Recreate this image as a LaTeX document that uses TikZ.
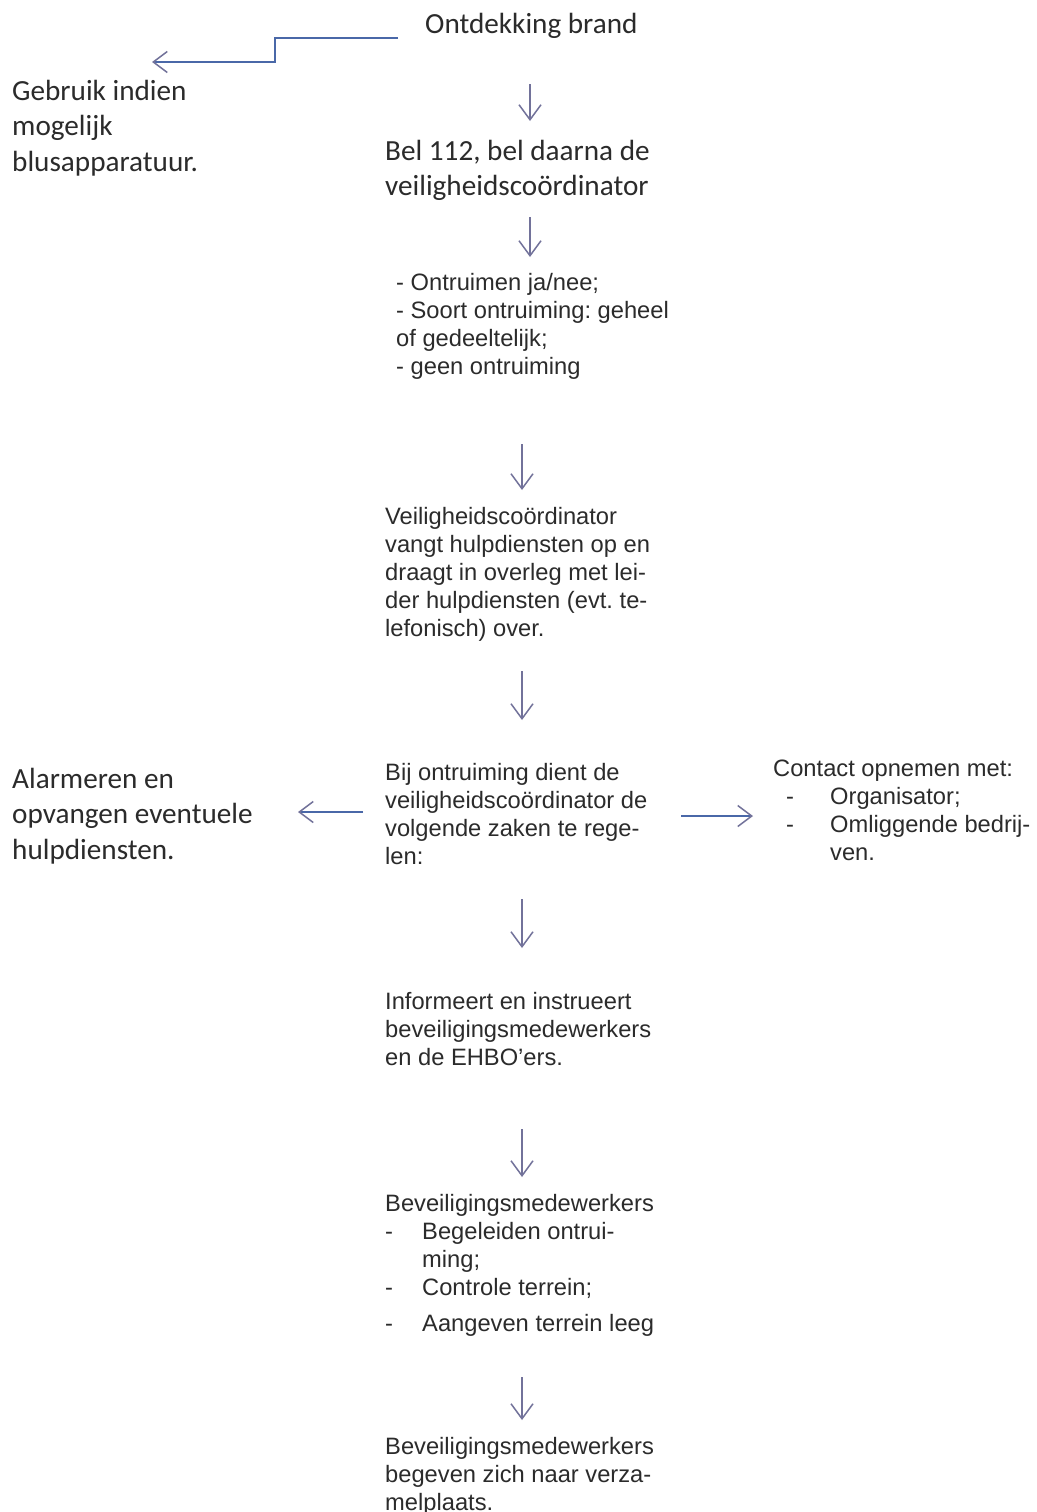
\documentclass[tikz,border=0pt]{standalone}
\usepackage{fontspec}
\setmainfont{Liberation Sans}
\newfontfamily\calib{Carlito}
\usetikzlibrary{arrows.meta}
\definecolor{arrowgray}{HTML}{72729A}
\definecolor{lineblue}{HTML}{4A68A8}
\definecolor{txt}{HTML}{2B2B2B}
\frenchspacing
\begin{document}
\begin{tikzpicture}[x=1pt,y=-1pt,
  cal/.style={anchor=base west,inner sep=0pt,align=left,text=txt,font=\calib\fontsize{29.2}{35.5}\selectfont},
  ari/.style={anchor=base west,inner sep=0pt,align=left,text=txt,font=\fontsize{23.7}{28}\selectfont},
  downarr/.style={draw=arrowgray,line width=1.4pt,-{Straight Barb[length=15pt,width=22pt,line width=1.5pt]}},
  sidearr/.style={draw=lineblue,line width=1.5pt,-{Straight Barb[length=14pt,width=21pt,line width=1.5pt,color=arrowgray]}}]
\useasboundingbox (0,0) rectangle (1036,1512);
\fill[white] (0,0) rectangle (1036,1512);
% texts (anchor = baseline of the last line)
\node[cal] (ontd) at (425,34) {Ontdekking brand};
\node[cal] (gebr) at (12,171) {Gebruik indien\\mogelijk\\blusapparatuur.};
\node[cal] (bel) at (385,195.5) {Bel 112, bel daarna de\\veiligheidscoördinator};
\node[ari] (ontr) at (396,374) {- Ontruimen ja/nee;\\- Soort ontruiming: geheel\\of gedeeltelijk;\\- geen ontruiming};
\node[ari] (vang) at (385,636) {Veiligheidscoördinator\\vangt hulpdiensten op en\\draagt in overleg met lei-\\der hulpdiensten (evt. te-\\lefonisch) over.};
\node[ari] (bij) at (385,864) {Bij ontruiming dient de\\veiligheidscoördinator de\\volgende zaken te rege-\\len:};
\node[cal] (alarm) at (12,859) {Alarmeren en\\opvangen eventuele\\hulpdiensten.};
\node[ari] (contact) at (773,860) {Contact opnemen met:\\\hspace*{13pt}\makebox[44pt][l]{-}Organisator;\\\hspace*{13pt}\makebox[44pt][l]{-}Omliggende bedrij-\\\hspace*{57pt}ven.};
\node[ari] (info) at (385,1065) {Informeert en instrueert\\beveiligingsmedewerkers\\en de EHBO'ers.};
\node[ari] (bev) at (385,1331) {Beveiligingsmedewerkers\\\makebox[37pt][l]{-}Begeleiden ontrui-\\\hspace*{37pt}ming;\\\makebox[37pt][l]{-}Controle terrein;\\[8pt]\makebox[37pt][l]{-}Aangeven terrein leeg};
\node[ari] (verz) at (385,1510) {Beveiligingsmedewerkers\\begeven zich naar verza-\\melplaats.};
% arrow end points
\coordinate (a0s) at (398,38);
\coordinate (a0e) at (152,62);
\coordinate (a1s) at (530,84);  \coordinate (a1e) at (530,121);
\coordinate (a2s) at (530,217); \coordinate (a2e) at (530,257);
\coordinate (a3s) at (522,444); \coordinate (a3e) at (522,490);
\coordinate (a4s) at (522,671); \coordinate (a4e) at (522,720);
\coordinate (a5s) at (522,899); \coordinate (a5e) at (522,948);
\coordinate (a6s) at (522,1129);\coordinate (a6e) at (522,1177);
\coordinate (a7s) at (522,1377);\coordinate (a7e) at (522,1420);
\coordinate (lls) at (363,812); \coordinate (lle) at (298,812);
\coordinate (rrs) at (681,816); \coordinate (rre) at (753,816);
% connectors
\draw[sidearr] (a0s) -- (275,38) -- (275,62) -- (a0e);
\draw[downarr] (a1s) -- (a1e);
\draw[downarr] (a2s) -- (a2e);
\draw[downarr] (a3s) -- (a3e);
\draw[downarr] (a4s) -- (a4e);
\draw[downarr] (a5s) -- (a5e);
\draw[downarr] (a6s) -- (a6e);
\draw[downarr] (a7s) -- (a7e);
\draw[sidearr] (lls) -- (lle);
\draw[sidearr] (rrs) -- (rre);
\end{tikzpicture}
\end{document}
